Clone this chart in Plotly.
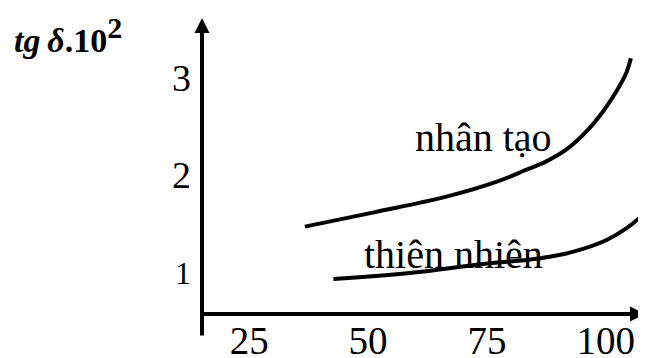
import plotly.graph_objects as go

# Data
x_ticks = [25, 50, 75, 100]
y_ticks = [1, 2, 3]
y_tick_text = ["<span style='font-size:32px'>1</span>", "2", "3"]

nhan_tao_x = [36.7, 51.5, 66.5, 77.1, 83.2, 87.4, 91.6, 95.9, 99.4, 102.2, 104.3, 105.3]
nhan_tao_y = [1.46, 1.61, 1.77, 1.925, 2.047, 2.133, 2.254, 2.444, 2.651, 2.858, 3.049, 3.204]

thien_nhien_x = [42.7, 58.8, 74.2, 86.2, 93.2, 100.2, 104.4, 108.5]
thien_nhien_y = [0.917, 0.979, 1.073, 1.132, 1.200, 1.321, 1.443, 1.615]

FONT = "Liberation Serif"

fig = go.Figure()
fig.add_trace(go.Scatter(x=nhan_tao_x, y=nhan_tao_y, mode="lines",
                         line=dict(color="black", width=4, shape="spline", smoothing=1.0),
                         cliponaxis=False, name="nhân tạo"))
fig.add_trace(go.Scatter(x=thien_nhien_x, y=thien_nhien_y, mode="lines",
                         line=dict(color="black", width=4, shape="spline", smoothing=1.2),
                         cliponaxis=False, name="thiên nhiên"))

annotations = [
    # y axis arrow
    dict(xref="paper", yref="paper", x=0, y=1, ax=0, ay=319, axref="pixel", ayref="pixel",
         showarrow=True, arrowhead=2, arrowsize=0.75, arrowwidth=4, arrowcolor="black", text=""),
    # x axis arrow
    dict(xref="paper", yref="paper", x=1, y=0, ax=-446, ay=0, axref="pixel", ayref="pixel",
         showarrow=True, arrowhead=2, arrowsize=0.75, arrowwidth=4, arrowcolor="black", text=""),
    dict(x=59.4, y=2.38, xref="x", yref="y", text="nhân tạo", showarrow=False,
         xanchor="left", yanchor="middle", font=dict(family=FONT, size=40, color="black")),
    dict(x=48.7, y=1.17, xref="x", yref="y", text="thiên nhiên", showarrow=False,
         xanchor="left", yanchor="middle", font=dict(family=FONT, size=40, color="black")),
    dict(xref="paper", yref="paper", x=-0.428, y=0.943, xanchor="left", yanchor="middle",
         text="<b><i>tg</i>&#8201;<i>δ</i>.10<sup><span style='font-size:30px'>2</span></sup></b>",
         showarrow=False, font=dict(family=FONT, size=34, color="black")),
]

# the page has an 8px body margin, so the figure is 8px smaller than the window
fig.update_layout(
    width=638, height=350,
    margin=dict(l=194, r=0, t=10, b=44, autoexpand=False),
    paper_bgcolor="white", plot_bgcolor="white",
    showlegend=False,
    annotations=annotations,
    xaxis=dict(range=[15.05, 108.48], tickvals=x_ticks, ticktext=[str(v) for v in x_ticks],
               showgrid=False, zeroline=False, showline=False, ticks="", automargin=False,
               tickfont=dict(family=FONT, size=39, color="black"), ticklabelstandoff=0),
    yaxis=dict(range=[0.554, 3.622], tickvals=y_ticks, ticktext=y_tick_text,
               showgrid=False, zeroline=False, showline=False, ticks="", automargin=False,
               tickfont=dict(family=FONT, size=38, color="black"), ticklabelstandoff=10),
)

fig.write_html("out.html")
